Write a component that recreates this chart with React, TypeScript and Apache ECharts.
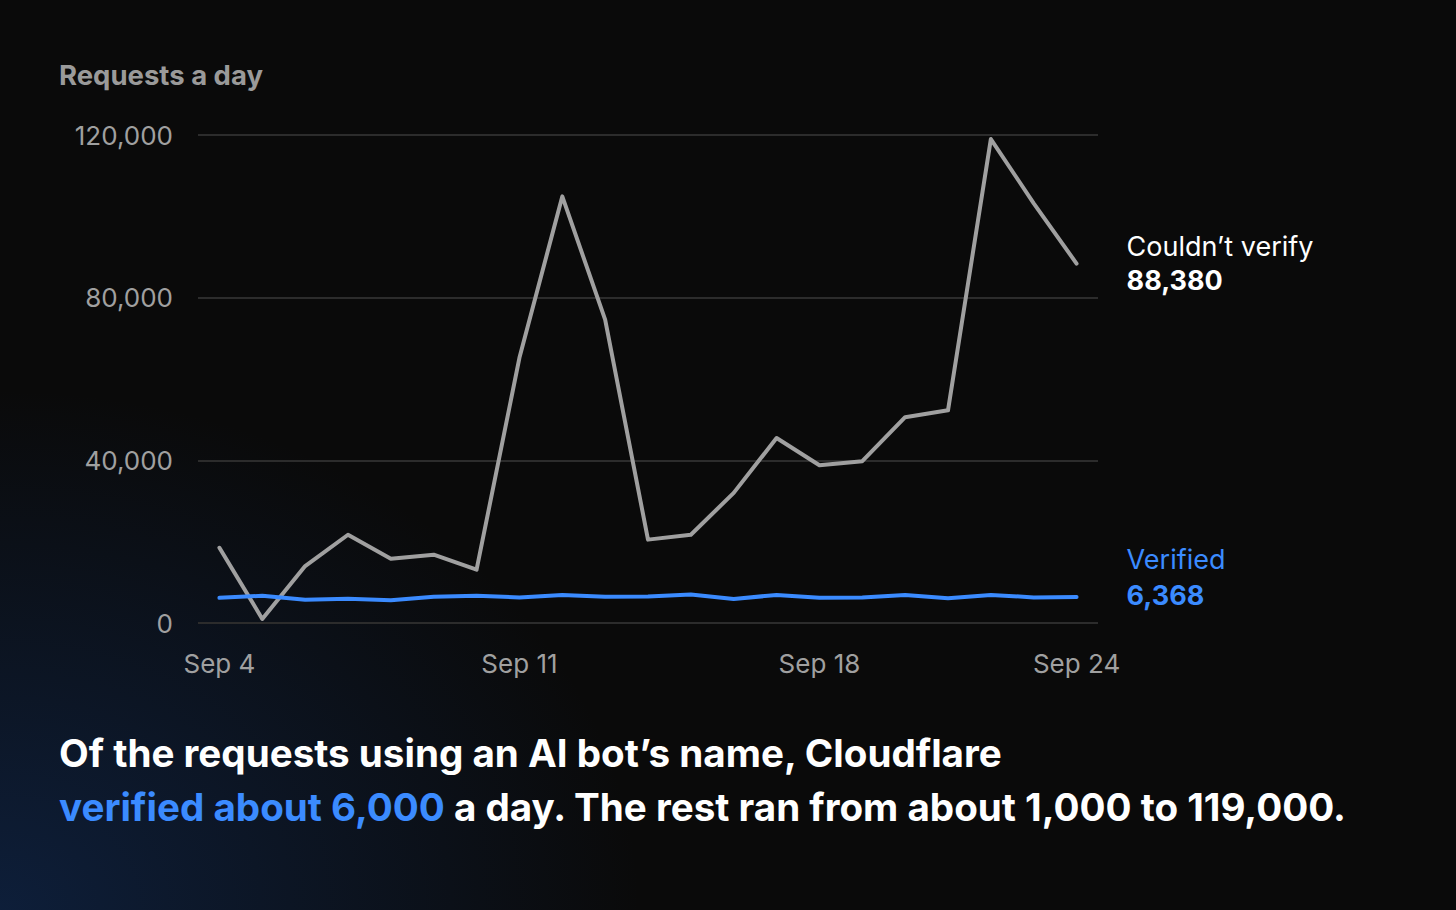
import { useEffect, useRef } from 'react'
import * as echarts from 'echarts'

const days = [
  'Sep 4', 'Sep 5', 'Sep 6', 'Sep 7', 'Sep 8', 'Sep 9', 'Sep 10',
  'Sep 11', 'Sep 12', 'Sep 13', 'Sep 14', 'Sep 15', 'Sep 16', 'Sep 17',
  'Sep 18', 'Sep 19', 'Sep 20', 'Sep 21', 'Sep 22', 'Sep 23', 'Sep 24',
]
const tickDays = ['Sep 4', 'Sep 11', 'Sep 18', 'Sep 24']
const couldntVerify = [
  18500, 1000, 14000, 21700, 15800, 16800, 13100, 65200, 104900, 74600, 20500,
  21700, 32000, 45500, 38800, 39800, 50600, 52300, 119000, 103200, 88380,
]
const verified = [
  6200, 6700, 5700, 5950, 5600, 6450, 6700, 6300, 6900, 6450, 6500,
  7000, 5900, 6900, 6200, 6300, 6900, 6100, 6900, 6300, 6368,
]
const yMax = 120000
const yStep = 40000

const FONT = 'Inter, "Noto Sans", sans-serif'
const GRAY = '#a0a0a0'
const BLUE = '#3b8bff'

const fmt = (v: number) => v.toLocaleString('en-US')

export default function App() {
  const ref = useRef<HTMLDivElement>(null)

  useEffect(() => {
    if (!ref.current) return
    const chart = echarts.init(ref.current, undefined, { renderer: 'svg' })
    chart.setOption({
      animation: false,
      backgroundColor: 'transparent',
      textStyle: { fontFamily: FONT },
      title: [
        {
          text: 'Requests a day',
          left: 59,
          top: 61,
          padding: 0,
          textStyle: { fontFamily: FONT, fontSize: 27.5, fontWeight: 'bold', color: '#9a9a9a' },
        },
        {
          text:
            'Of the requests using an AI bot’s name, Cloudflare\n' +
            '{blue|verified about 6,000} a day. The rest ran from about 1,000 to 119,000.',
          left: 59,
          top: 726,
          padding: 0,
          textStyle: {
            fontFamily: FONT,
            fontSize: 38.6,
            fontWeight: 'bold',
            color: '#ffffff',
            lineHeight: 54,
            rich: {
              blue: { fontFamily: FONT, fontSize: 38.6, fontWeight: 'bold', color: BLUE, lineHeight: 54 },
            },
          },
        },
      ],
      grid: { left: 198, right: 358, top: 135, bottom: 287 },
      xAxis: {
        type: 'category',
        data: days,
        boundaryGap: true,
        axisLine: { show: false },
        axisTick: { show: false },
        axisLabel: {
          interval: (_i: number, v: string) => tickDays.includes(v),
          color: GRAY,
          fontSize: 26,
          fontFamily: FONT,
          margin: 27,
        },
      },
      yAxis: {
        type: 'value',
        min: 0,
        max: yMax,
        interval: yStep,
        axisLine: { show: false },
        axisTick: { show: false },
        axisLabel: {
          color: GRAY,
          fontSize: 26,
          fontFamily: FONT,
          margin: 25,
          formatter: (v: number) => fmt(v),
        },
        splitLine: { lineStyle: { color: '#2c2c2c', width: 2 } },
      },
      series: [
        {
          name: 'Couldn’t verify',
          type: 'line',
          data: couldntVerify,
          showSymbol: false,
          lineStyle: { color: GRAY, width: 4, cap: 'round', join: 'round' },
          itemStyle: { color: GRAY },
          endLabel: {
            show: true,
            distance: 50,
            formatter: (p: any) => `{a|${p.seriesName}}\n{b|${fmt(p.value)}}`,
            rich: {
              a: { fontFamily: FONT, fontSize: 27, color: '#ffffff', lineHeight: 34 },
              b: { fontFamily: FONT, fontSize: 27, fontWeight: 'bold', color: '#ffffff', lineHeight: 34 },
            },
          },
        },
        {
          name: 'Verified',
          type: 'line',
          data: verified,
          showSymbol: false,
          lineStyle: { color: BLUE, width: 4, cap: 'round', join: 'round' },
          itemStyle: { color: BLUE },
          endLabel: {
            show: true,
            distance: 50,
            offset: [0, -20],
            formatter: (p: any) => `{a|${p.seriesName}}\n{b|${fmt(p.value)}}`,
            rich: {
              a: { fontFamily: FONT, fontSize: 27, color: BLUE, lineHeight: 36 },
              b: { fontFamily: FONT, fontSize: 27, fontWeight: 'bold', color: BLUE, lineHeight: 36 },
            },
          },
        },
      ],
    })
    return () => chart.dispose()
  }, [])

  return (
    <div
      style={{
        position: 'fixed',
        left: 0,
        top: 0,
        width: 1456,
        height: 910,
        background:
          'radial-gradient(ellipse 640px 520px at 0% 100%, rgba(18,55,115,0.45), rgba(10,10,10,0) 100%), #0a0a0a',
      }}
    >
      <div ref={ref} style={{ width: 1456, height: 910 }} />
    </div>
  )
}
